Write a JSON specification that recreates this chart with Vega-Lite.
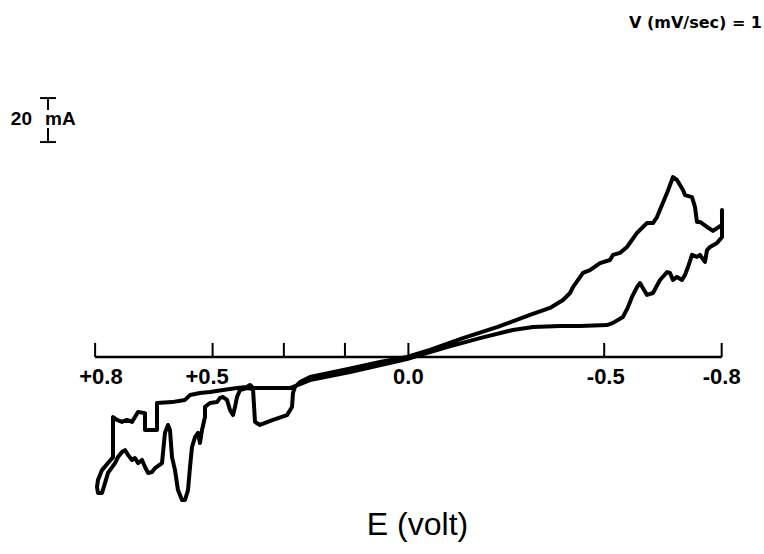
{
  "$schema": "https://vega.github.io/schema/vega-lite/v6.json",
  "width": 764,
  "height": 465,
  "autosize": {"type": "none"},
  "padding": {"left": 0, "right": 0, "top": 40, "bottom": 49},
  "background": "white",
  "view": {"stroke": null},
  "title": {"text": "V (mV/sec) = 1", "anchor": "end", "orient": "top", "offset": 9, "font": "DejaVu Sans", "fontSize": 16, "fontWeight": "bold", "color": "black", "dx": -2},
  "config": {
    "axisX": {"domain": false, "ticks": false, "labels": false, "grid": false, "titleFont": "Liberation Sans", "titleFontSize": 32, "titleFontWeight": "normal", "titleColor": "black", "titlePadding": 4, "titleX": 417}
  },
  "datasets": {
    "cv": [
      {"i":1,"E":-0.8008,"I":66.8},{"i":2,"E":-0.8008,"I":54.5},{"i":3,"E":-0.7881,"I":51.8},{"i":4,"E":-0.7702,"I":50.0},
      {"i":5,"E":-0.7625,"I":48.6},{"i":6,"E":-0.7574,"I":43.2},{"i":7,"E":-0.7446,"I":46.4},{"i":8,"E":-0.7370,"I":45.5},
      {"i":9,"E":-0.7242,"I":46.4},{"i":10,"E":-0.7140,"I":40.9},{"i":11,"E":-0.7063,"I":37.3},{"i":12,"E":-0.6987,"I":35.0},
      {"i":13,"E":-0.6859,"I":36.4},{"i":14,"E":-0.6757,"I":35.0},{"i":15,"E":-0.6680,"I":38.2},{"i":16,"E":-0.6604,"I":38.6},
      {"i":17,"E":-0.6425,"I":35.0},{"i":18,"E":-0.6246,"I":29.1},{"i":19,"E":-0.6093,"I":28.2},{"i":20,"E":-0.5914,"I":33.6},
      {"i":21,"E":-0.5838,"I":31.8},{"i":22,"E":-0.5710,"I":27.3},{"i":23,"E":-0.5608,"I":22.7},{"i":24,"E":-0.5480,"I":18.2},
      {"i":25,"E":-0.5225,"I":15.5},{"i":26,"E":-0.5072,"I":14.5},{"i":27,"E":-0.4382,"I":14.1},{"i":28,"E":-0.3871,"I":14.1},
      {"i":29,"E":-0.3182,"I":13.6},{"i":30,"E":-0.2671,"I":12.3},{"i":31,"E":-0.1828,"I":8.6},{"i":32,"E":-0.0986,"I":4.5},
      {"i":33,"E":-0.0296,"I":0.9},{"i":34,"E":0.0036,"I":-0.9},{"i":35,"E":0.1491,"I":-6.8},{"i":36,"E":0.2513,"I":-10.5},
      {"i":37,"E":0.3023,"I":-14.1},{"i":38,"E":0.3968,"I":-14.1},{"i":39,"E":0.4045,"I":-12.7},{"i":40,"E":0.4122,"I":-13.6},
      {"i":41,"E":0.4377,"I":-14.1},{"i":42,"E":0.4734,"I":-15.0},{"i":43,"E":0.5066,"I":-15.9},{"i":44,"E":0.5322,"I":-16.4},
      {"i":45,"E":0.5577,"I":-17.3},{"i":46,"E":0.5705,"I":-19.5},{"i":47,"E":0.6037,"I":-20.5},{"i":48,"E":0.6420,"I":-20.9},
      {"i":49,"E":0.6420,"I":-33.2},{"i":50,"E":0.6726,"I":-33.2},{"i":51,"E":0.6726,"I":-25.5},{"i":52,"E":0.6905,"I":-25.0},
      {"i":53,"E":0.6982,"I":-27.3},{"i":54,"E":0.7058,"I":-29.5},{"i":55,"E":0.7186,"I":-28.6},{"i":56,"E":0.7314,"I":-29.5},
      {"i":57,"E":0.7441,"I":-28.6},{"i":58,"E":0.7543,"I":-27.3},{"i":59,"E":0.7543,"I":-40.9},{"i":60,"E":0.7543,"I":-45.5},
      {"i":61,"E":0.7671,"I":-48.2},{"i":62,"E":0.7824,"I":-51.4},{"i":63,"E":0.7927,"I":-55.9},{"i":64,"E":0.7952,"I":-59.1},
      {"i":65,"E":0.7927,"I":-61.8},{"i":66,"E":0.7824,"I":-61.8},{"i":67,"E":0.7748,"I":-57.3},{"i":68,"E":0.7671,"I":-52.7},
      {"i":69,"E":0.7492,"I":-48.2},{"i":70,"E":0.7416,"I":-45.5},{"i":71,"E":0.7314,"I":-43.2},{"i":72,"E":0.7237,"I":-42.3},
      {"i":73,"E":0.7160,"I":-44.5},{"i":74,"E":0.7058,"I":-46.8},{"i":75,"E":0.6982,"I":-45.9},{"i":76,"E":0.6905,"I":-48.2},
      {"i":77,"E":0.6803,"I":-46.8},{"i":78,"E":0.6726,"I":-50.0},{"i":79,"E":0.6650,"I":-52.7},{"i":80,"E":0.6547,"I":-52.3},
      {"i":81,"E":0.6471,"I":-50.5},{"i":82,"E":0.6292,"I":-48.2},{"i":83,"E":0.6216,"I":-34.5},{"i":84,"E":0.6139,"I":-30.9},
      {"i":85,"E":0.6088,"I":-33.2},{"i":86,"E":0.6037,"I":-45.5},{"i":87,"E":0.5960,"I":-51.4},{"i":88,"E":0.5884,"I":-60.5},
      {"i":89,"E":0.5781,"I":-65.0},{"i":90,"E":0.5705,"I":-65.0},{"i":91,"E":0.5628,"I":-60.5},{"i":92,"E":0.5577,"I":-50.0},
      {"i":93,"E":0.5526,"I":-40.9},{"i":94,"E":0.5449,"I":-36.4},{"i":95,"E":0.5373,"I":-34.5},{"i":96,"E":0.5322,"I":-39.1},
      {"i":97,"E":0.5271,"I":-33.2},{"i":98,"E":0.5194,"I":-27.3},{"i":99,"E":0.5194,"I":-22.7},{"i":100,"E":0.5066,"I":-20.9},
      {"i":101,"E":0.4888,"I":-20.5},{"i":102,"E":0.4811,"I":-18.6},{"i":103,"E":0.4734,"I":-18.2},{"i":104,"E":0.4632,"I":-19.5},
      {"i":105,"E":0.4556,"I":-24.1},{"i":106,"E":0.4479,"I":-26.4},{"i":107,"E":0.4428,"I":-22.7},{"i":108,"E":0.4377,"I":-18.2},
      {"i":109,"E":0.4300,"I":-15.0},{"i":110,"E":0.4122,"I":-14.1},{"i":111,"E":0.3968,"I":-14.5},{"i":112,"E":0.3917,"I":-29.5},
      {"i":113,"E":0.3790,"I":-30.9},{"i":114,"E":0.3458,"I":-28.6},{"i":115,"E":0.3100,"I":-26.4},{"i":116,"E":0.2972,"I":-22.7},
      {"i":117,"E":0.2947,"I":-16.4},{"i":118,"E":0.2896,"I":-13.6},{"i":119,"E":0.2768,"I":-11.4},{"i":120,"E":0.2513,"I":-9.1},
      {"i":121,"E":0.1568,"I":-5.5},{"i":122,"E":0.0725,"I":-2.3},{"i":123,"E":0.0036,"I":0.0},{"i":124,"E":-0.0552,"I":3.2},
      {"i":125,"E":-0.1394,"I":8.6},{"i":126,"E":-0.2263,"I":13.6},{"i":127,"E":-0.3105,"I":19.1},{"i":128,"E":-0.3616,"I":22.3},
      {"i":129,"E":-0.3948,"I":25.9},{"i":130,"E":-0.4127,"I":29.1},{"i":131,"E":-0.4203,"I":31.8},{"i":132,"E":-0.4459,"I":38.2},
      {"i":133,"E":-0.4637,"I":39.5},{"i":134,"E":-0.4893,"I":42.7},{"i":135,"E":-0.5148,"I":44.1},{"i":136,"E":-0.5225,"I":46.4},
      {"i":137,"E":-0.5403,"I":47.3},{"i":138,"E":-0.5582,"I":50.0},{"i":139,"E":-0.5838,"I":56.4},{"i":140,"E":-0.6093,"I":60.9},
      {"i":141,"E":-0.6246,"I":60.9},{"i":142,"E":-0.6348,"I":63.6},{"i":143,"E":-0.6604,"I":74.5},{"i":144,"E":-0.6757,"I":81.8},
      {"i":145,"E":-0.6859,"I":80.5},{"i":146,"E":-0.7012,"I":75.9},{"i":147,"E":-0.7063,"I":73.6},{"i":148,"E":-0.7242,"I":72.7},
      {"i":149,"E":-0.7319,"I":68.2},{"i":150,"E":-0.7370,"I":61.4},{"i":151,"E":-0.7446,"I":61.4},{"i":152,"E":-0.7625,"I":59.1},
      {"i":153,"E":-0.7778,"I":57.3},{"i":154,"E":-0.7881,"I":58.6},{"i":155,"E":-0.8008,"I":60.0},{"i":156,"E":-0.8008,"I":66.8}
    ],
    "ticks": [
      {"v":0.8,"lv":0.785,"lab":"+0.8"},{"v":0.5,"lv":0.514,"lab":"+0.5"},{"v":0.318,"lv":0.318,"lab":""},{"v":0.162,"lv":0.162,"lab":""},
      {"v":0.0,"lv":0.0,"lab":"0.0"},{"v":-0.5,"lv":-0.504,"lab":"-0.5"},{"v":-0.8,"lv":-0.8,"lab":"-0.8"}
    ],
    "bar": [
      {"xa":0.9203,"xb":0.9203,"ya":117.7,"yb":112.3},
      {"xa":0.9203,"xb":0.9203,"ya":104.1,"yb":97.7},
      {"xa":0.9407,"xb":0.8999,"ya":117.7,"yb":117.7},
      {"xa":0.9407,"xb":0.8999,"ya":97.7,"yb":97.7}
    ],
    "barLeft": [{"x":0.9612,"y":105.5,"t":"20"}],
    "barRight": [{"x":0.928,"y":105.5,"t":"mA"}]
  },
  "layer": [
    {
      "data": {"values": [{"x1": 0.8, "x2": -0.8, "y": 0}]},
      "mark": {"type": "rule", "color": "black", "strokeWidth": 2.5},
      "encoding": {
        "x": {"field": "x1", "type": "quantitative", "title": "E (volt)", "scale": {"domain": [-0.9081, 1.0429], "reverse": true, "nice": false, "zero": false}},
        "x2": {"field": "x2"},
        "y": {"field": "y", "type": "quantitative", "axis": null, "scale": {"domain": [-67.27, 144.09], "nice": false, "zero": false}}
      }
    },
    {
      "data": {"name": "ticks"},
      "transform": [{"calculate": "0", "as": "y0"}, {"calculate": "6.4", "as": "y1"}],
      "mark": {"type": "rule", "color": "black", "strokeWidth": 2},
      "encoding": {
        "x": {"field": "v", "type": "quantitative", "title": "E (volt)", "scale": {"domain": [-0.9081, 1.0429], "reverse": true, "nice": false, "zero": false}},
        "y": {"field": "y0", "type": "quantitative", "axis": null, "scale": {"domain": [-67.27, 144.09], "nice": false, "zero": false}},
        "y2": {"field": "y1"}
      }
    },
    {
      "data": {"name": "ticks"},
      "transform": [{"calculate": "0", "as": "y0"}],
      "mark": {"type": "text", "color": "black", "font": "Liberation Sans", "fontSize": 22, "fontWeight": "bold", "align": "center", "baseline": "alphabetic", "dy": 27},
      "encoding": {
        "x": {"field": "lv", "type": "quantitative", "title": "E (volt)", "scale": {"domain": [-0.9081, 1.0429], "reverse": true, "nice": false, "zero": false}},
        "y": {"field": "y0", "type": "quantitative", "axis": null, "scale": {"domain": [-67.27, 144.09], "nice": false, "zero": false}},
        "text": {"field": "lab"}
      }
    },
    {
      "data": {"name": "cv"},
      "mark": {"type": "line", "color": "black", "strokeWidth": 4, "strokeJoin": "round", "strokeCap": "round"},
      "encoding": {
        "x": {"field": "E", "type": "quantitative", "title": "E (volt)", "scale": {"domain": [-0.9081, 1.0429], "reverse": true, "nice": false, "zero": false}},
        "y": {"field": "I", "type": "quantitative", "axis": null, "scale": {"domain": [-67.27, 144.09], "nice": false, "zero": false}},
        "order": {"field": "i", "type": "quantitative"}
      }
    },
    {
      "data": {"name": "bar"},
      "mark": {"type": "rule", "color": "black", "strokeWidth": 2},
      "encoding": {
        "x": {"field": "xa", "type": "quantitative", "title": "E (volt)", "scale": {"domain": [-0.9081, 1.0429], "reverse": true, "nice": false, "zero": false}},
        "x2": {"field": "xb"},
        "y": {"field": "ya", "type": "quantitative", "axis": null, "scale": {"domain": [-67.27, 144.09], "nice": false, "zero": false}},
        "y2": {"field": "yb"}
      }
    },
    {
      "data": {"name": "barLeft"},
      "mark": {"type": "text", "color": "black", "font": "Liberation Sans", "fontSize": 19, "fontWeight": "bold", "baseline": "alphabetic", "align": "right"},
      "encoding": {
        "x": {"field": "x", "type": "quantitative", "title": "E (volt)", "scale": {"domain": [-0.9081, 1.0429], "reverse": true, "nice": false, "zero": false}},
        "y": {"field": "y", "type": "quantitative", "axis": null, "scale": {"domain": [-67.27, 144.09], "nice": false, "zero": false}},
        "text": {"field": "t"}
      }
    },
    {
      "data": {"name": "barRight"},
      "mark": {"type": "text", "color": "black", "font": "Liberation Sans", "fontSize": 19, "fontWeight": "bold", "baseline": "alphabetic", "align": "left"},
      "encoding": {
        "x": {"field": "x", "type": "quantitative", "title": "E (volt)", "scale": {"domain": [-0.9081, 1.0429], "reverse": true, "nice": false, "zero": false}},
        "y": {"field": "y", "type": "quantitative", "axis": null, "scale": {"domain": [-67.27, 144.09], "nice": false, "zero": false}},
        "text": {"field": "t"}
      }
    }
  ]
}
